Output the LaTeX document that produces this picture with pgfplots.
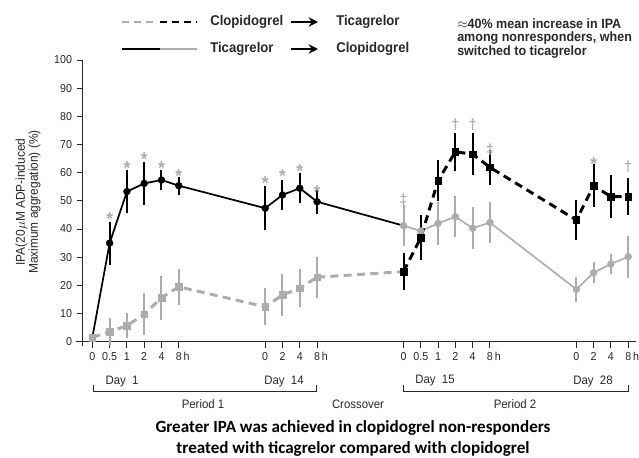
\documentclass[border=0pt]{standalone}
\usepackage{fontspec}
\setmainfont{Liberation Sans}[FakeStretch=0.93]
\newfontfamily\carlito{Carlito}
\usepackage{pgfplots}
\usepackage{pgfplotstable}
\pgfplotsset{compat=1.18}
\usetikzlibrary{arrows.meta}
\definecolor{lgray}{RGB}{172,172,172}
\definecolor{txt}{RGB}{40,40,40}

% clopidogrel, period 1 (gray dashed squares)
\pgfplotstableread{
x y e
0 1.5 0
1 3.6 3.5
2 5.7 3.0
3 9.8 6.0
4 15.6 6.4
5 19.5 5.0
10 12.4 5.3
11 16.6 6.0
12 19.0 5.5
13 22.9 5.9
}\clopone
% clopidogrel -> ticagrelor, period 2 (black dashed squares)
\pgfplotstableread{
x y e
18 24.9 5.3
19 36.9 6.6
20 57.2 6.0
21 67.4 5.3
22 66.6 6.1
23 61.9 5.0
28 43.2 5.9
29 55.4 6.2
30 51.5 6.2
31 51.5 5.2
}\clopswitch
% ticagrelor, period 1 (black solid circles)
\pgfplotstableread{
x y e
0 1.5 0
1 35.0 6.3
2 53.3 6.3
3 56.2 6.4
4 57.4 2.2
5 55.4 1.9
10 47.4 6.4
11 52.1 4.0
12 54.5 4.0
13 49.7 3.1
}\ticaone
% ticagrelor -> clopidogrel, period 2 (gray solid circles)
\pgfplotstableread{
x y e
18 41.2 5.9
19 39.3 3.0
20 42.0 6.2
21 44.4 6.0
22 40.3 6.1
23 42.3 6.1
28 18.6 3.2
29 24.5 2.4
30 27.6 2.2
31 30.2 6.1
}\ticaswitch

\begin{document}
\begin{tikzpicture}
\useasboundingbox (0,0) rectangle (479.25pt,-342.75pt);
\begin{axis}[
  scale only axis,
  width=415pt, height=211.3pt,
  anchor=south west, at={(62.0pt,-256.3pt)},
  xmin=-0.56, xmax=31.45, ymin=0, ymax=100,
  axis lines*=left,
  axis line style={txt, line width=0.7pt},
  x axis line style={shorten <=-5pt},
  y axis line style={shorten <=-3.5pt},
  ytick={0,10,...,100},
  xtick={0,1,2,3,4,5,10,11,12,13,18,19,20,21,22,23,28,29,30,31},
  xticklabels={0,0.5,1,2,4,8\rlap{\,h},0,2,4,8\rlap{\,h},0,0.5,1,2,4,8\rlap{\,h},0,2,4,8\rlap{\,h}},
  tick align=outside, major tick length=4.5pt,
  tick style={txt, line width=0.7pt},
  tick label style={font=\fontsize{8.6}{10}\selectfont, text=txt},
  /pgf/number format/assume math mode=true,
  error bars/error mark=-,
  clip=false,
]
% connectors across the crossover
\addplot[lgray, line width=2.2pt, dash pattern=on 6pt off 4pt] coordinates {(13,22.9) (18,24.9)};
\addplot[black, line width=1.3pt] coordinates {(13,49.7) (18,41.2)};

\addplot[lgray, line width=2.2pt, dash pattern=on 6pt off 4pt,
  mark=square*, mark size=2.5pt, mark options={solid, fill=lgray, line width=0.3pt},
  error bars/.cd, y dir=both, y explicit,
  error bar style={lgray, line width=1.5pt, solid},
  error mark options={lgray, line width=1.5pt, mark size=2.8pt}]
  table[x=x, y=y, y error=e] {\clopone};

\addplot[lgray, line width=1.2pt,
  mark=*, mark size=2.6pt, mark options={fill=lgray, line width=0.3pt},
  error bars/.cd, y dir=both, y explicit,
  error bar style={lgray, line width=1.5pt},
  error mark options={lgray, line width=1.5pt, mark size=2.8pt}]
  table[x=x, y=y, y error=e] {\ticaswitch};

\addplot[black, line width=1.3pt,
  mark=*, mark size=2.6pt, mark options={fill=black, line width=0.3pt}, mark indices={2,...,10},
  error bars/.cd, y dir=both, y explicit,
  error bar style={black, line width=1.5pt},
  error mark options={black, line width=1.5pt, mark size=2.8pt}]
  table[x=x, y=y, y error=e] {\ticaone};

\addplot[black, line width=2.2pt, dash pattern=on 6pt off 4pt,
  mark=square*, mark size=2.5pt, mark options={solid, fill=black, line width=0.3pt},
  error bars/.cd, y dir=both, y explicit,
  error bar style={black, line width=1.5pt, solid},
  error mark options={black, line width=1.5pt, mark size=2.8pt}]
  table[x=x, y=y, y error=e] {\clopswitch};

% significance symbols
\begin{scope}[every node/.style={text=lgray, anchor=base, font=\fontsize{14}{14}\selectfont\bfseries, inner sep=0pt}]
\node at (axis cs:1,41.2) {*};
\node at (axis cs:2,59.2) {*};
\node at (axis cs:3,62.5) {*};
\node at (axis cs:4,59.2) {*};
\node at (axis cs:5,56.6) {*};
\node at (axis cs:10,54.2) {*};
\node at (axis cs:11,56.6) {*};
\node at (axis cs:12,58.3) {*};
\node at (axis cs:13,51.0) {*};
\node at (axis cs:29,60.9) {*};
\end{scope}
\begin{scope}[every node/.style={text=lgray, anchor=base, font=\fontsize{11}{11}\selectfont\bfseries, inner sep=0pt}]
\node at (axis cs:18,48.8) {‡};
\node at (axis cs:21,75.2) {†};
\node at (axis cs:22,75.2) {†};
\node at (axis cs:23,66.6) {‡};
\node at (axis cs:31,60.4) {†};
\end{scope}
\end{axis}

\begin{scope}[x=0.75pt, y=-0.75pt]
% legend
\draw[lgray, line width=2.2pt, dash pattern=on 5.5pt off 3.5pt] (122,22) -- (157,22);
\draw[black, line width=2.2pt, dash pattern=on 5.5pt off 3.5pt] (160,22) -- (197,22);
\draw[black, line width=1.5pt] (122,49) -- (160,49);
\draw[lgray, line width=1.5pt] (160,49) -- (197,49);
\begin{scope}[every node/.style={anchor=west, inner sep=0pt, text=txt, font=\fontsize{10.6}{12}\selectfont\bfseries}]
\node at (210,22) {Clopidogrel};
\node at (336,22) {Ticagrelor};
\node at (210,49) {Ticagrelor};
\node at (336,49) {Clopidogrel};
\end{scope}
\draw[-{Stealth[length=7pt, width=7pt]}, line width=1.3pt] (291,22) -- (318,22);
\draw[-{Stealth[length=7pt, width=7pt]}, line width=1.3pt] (291,49) -- (318,49);
\node[anchor=west, inner sep=0pt, align=left, text=txt, font=\fontsize{10.1}{9.4}\selectfont\bfseries]
  at (457,38.5) {$\approx$40\% mean increase in IPA\\among nonresponders, when\\switched to ticagrelor};
% y label
\node[rotate=90, align=center, text=txt, font=\fontsize{9.6}{9.8}\selectfont] at (28,202)
  {IPA(20$\mu$M ADP-induced\\Maximum aggregation) (\%)};
% day / period labels
\begin{scope}[every node/.style={text=txt, font=\fontsize{9.2}{12}\selectfont, inner sep=0pt}]
\node at (122,382) {Day\ \ 1};
\node at (284,382) {Day\ \ 14};
\node at (435,381) {Day\ \ 15};
\node at (593,381) {Day\ \ 28};
\node at (203,404) {Period 1};
\node at (358,404) {Crossover};
\node at (515,404) {Period 2};
\end{scope}
\draw[txt, line width=0.7pt] (93,384.5) -- (93,391) -- (316.5,391) -- (316.5,384.5);
\draw[txt, line width=0.7pt] (403,384.5) -- (403,391) -- (628,391) -- (628,384.5);
% title
\node[align=center, text=black, font=\carlito\bfseries\fontsize{12.8}{15.3}\selectfont] at (353,438.5)
  {Greater IPA was achieved in clopidogrel non-responders\\treated with ticagrelor compared with clopidogrel};
\end{scope}
\end{tikzpicture}
\end{document}
